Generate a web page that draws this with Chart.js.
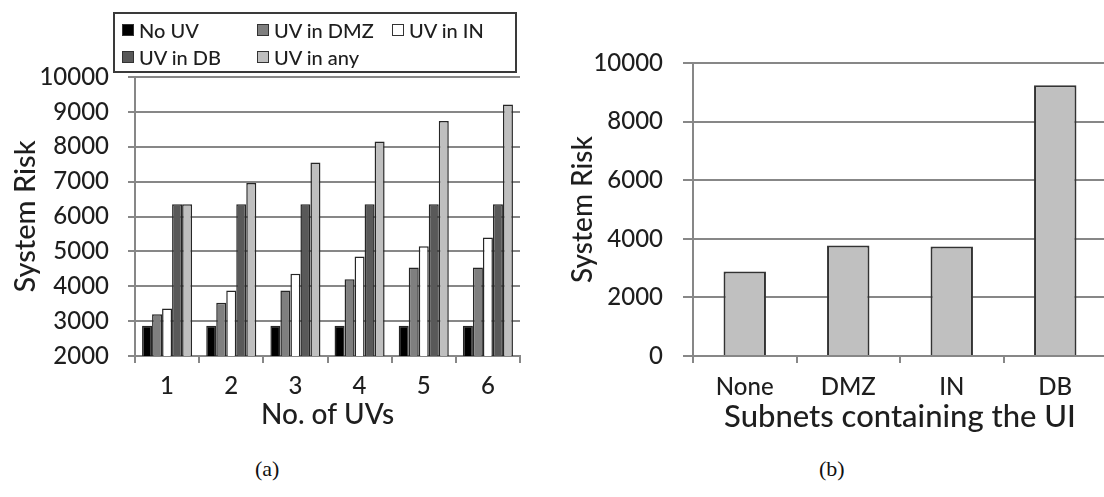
<!DOCTYPE html>
<html lang="en">
<head>
  <meta charset="UTF-8">
  <title>System Risk</title>
  <script src="https://cdn.jsdelivr.net/npm/chart.js"></script>
  <style>
    html, body { margin: 0; padding: 0; background: #fff; overflow: hidden; }
    body { width: 1104px; height: 497px; position: relative; font-family: Lato, sans-serif; color: #1e1e1e; }
    canvas { position: absolute; top: 0; }
    #chartA { left: 0; }
    #chartB { left: 560px; }
    #legendA {
      position: absolute; left: 113px; top: 12px; width: 400px; height: 55px;
      border: 2px solid #3a3a3a;
      display: grid; grid-template-columns: 135px 135px 130px; grid-auto-rows: 27px;
      padding-top: 2px;
    }
    #legendA .item { display: flex; align-items: center; padding-left: 7px; font-size: 20px; font-weight: 500; }
    #legendA .sw { width: 10px; height: 10px; border: 1.5px solid #333; margin-right: 5px; }
    .cap { position: absolute; top: 456px; font-family: "Liberation Serif", serif; font-size: 22px; color: #111; }
  </style>
</head>
<body>
  <canvas id="chartA" width="540" height="440"></canvas>
  <div id="legendA"></div>
  <canvas id="chartB" width="560" height="440"></canvas>
  <div class="cap" style="left:255px">(a)</div>
  <div class="cap" style="left:819px">(b)</div>

  <script>
    // (a) risk vs number of UVs
    const uvCounts = ["1", "2", "3", "4", "5", "6"];
    const noUV     = [2870, 2870, 2870, 2870, 2870, 2870];
    const uvInDMZ  = [3200, 3530, 3880, 4200, 4540, 4540];
    const uvInIN   = [3360, 3880, 4360, 4850, 5150, 5400];
    const uvInDB   = [6350, 6350, 6350, 6350, 6350, 6350];
    const uvInAny  = [6350, 6960, 7550, 8150, 8740, 9210];
    const ticksA   = { min: 2000, max: 10000, step: 1000 };

    // (b) risk vs subnet containing the UI
    const subnets  = ["None", "DMZ", "IN", "DB"];
    const riskB    = [2880, 3770, 3740, 9240];
    const ticksB   = { min: 0, max: 10000, step: 2000 };

    const ink = "#1e1e1e";
    const gridGray = "#878787";
    const edge = "#262626";

    Chart.defaults.font.family = "Lato, sans-serif";
    Chart.defaults.font.weight = 500;
    Chart.defaults.color = ink;

    const plain = v => String(v);   // no thousands separator

    function ds(label, data, fill) {
      return { label, data, backgroundColor: fill, borderColor: edge, borderWidth: 1.5 };
    }

    const chartA = new Chart("chartA", {
      type: "bar",
      data: {
        labels: uvCounts,
        datasets: [
          ds("No UV", noUV, "#000000"),
          ds("UV in DMZ", uvInDMZ, "#7f7f7f"),
          ds("UV in IN", uvInIN, "#ffffff"),
          ds("UV in DB", uvInDB, "#595959"),
          ds("UV in any", uvInAny, "#bfbfbf")
        ]
      },
      options: {
        responsive: false,
        devicePixelRatio: 1,
        animation: false,
        layout: { padding: { top: 77, right: 20, left: 0, bottom: 0 } },
        plugins: { legend: { display: false }, tooltip: { enabled: false } },
        datasets: { bar: { categoryPercentage: 0.78, barPercentage: 1.0 } },
        scales: {
          x: {
            grid: { offset: true, drawOnChartArea: false, color: gridGray, lineWidth: 2, tickLength: 7 },
            border: { color: gridGray, width: 2 },
            ticks: { font: { size: 24 }, padding: 9 },
            title: { display: true, text: "No. of UVs", font: { size: 28, lineHeight: 1 }, padding: { top: 0, bottom: 11 } },
            afterFit: s => { s.height = 84; }
          },
          y: {
            min: ticksA.min, max: ticksA.max,
            grid: { color: gridGray, lineWidth: 2, tickLength: 7 },
            border: { color: gridGray, width: 2 },
            ticks: { stepSize: ticksA.step, font: { size: 24 }, padding: 19, callback: plain },
            title: { display: true, text: "System Risk", font: { size: 29, lineHeight: 1 }, padding: { top: 11, bottom: 0 } },
            afterFit: s => { s.width = 135; }
          }
        }
      }
    });

    // legend box for (a), built from the chart's own datasets
    const legendA = document.getElementById("legendA");
    chartA.data.datasets.forEach(d => {
      const item = document.createElement("div");
      item.className = "item";
      const sw = document.createElement("span");
      sw.className = "sw";
      sw.style.background = d.backgroundColor;
      item.appendChild(sw);
      item.appendChild(document.createTextNode(d.label));
      legendA.appendChild(item);
    });

    new Chart("chartB", {
      type: "bar",
      data: {
        labels: subnets,
        datasets: [{ label: "System Risk", data: riskB, backgroundColor: "#c0c0c0", borderColor: "#333333", borderWidth: 2 }]
      },
      options: {
        responsive: false,
        devicePixelRatio: 1,
        animation: false,
        layout: { padding: { top: 63, right: 13, left: 0, bottom: 0 } },
        plugins: { legend: { display: false }, tooltip: { enabled: false } },
        datasets: { bar: { categoryPercentage: 1.0, barPercentage: 0.41 } },
        scales: {
          x: {
            grid: { offset: true, drawOnChartArea: false, color: gridGray, lineWidth: 2, tickLength: 7 },
            border: { color: gridGray, width: 2 },
            ticks: { font: { size: 24 }, padding: 10 },
            title: { display: true, text: "Subnets containing the UI", font: { size: 31, lineHeight: 1 }, padding: { top: 0, bottom: 8 } },
            afterFit: s => { s.height = 84; }
          },
          y: {
            min: ticksB.min, max: ticksB.max,
            grid: { color: gridGray, lineWidth: 2, tickLength: 10 },
            border: { color: gridGray, width: 2 },
            ticks: { stepSize: ticksB.step, font: { size: 24 }, padding: 20, callback: plain },
            title: { display: true, text: "System Risk", font: { size: 28, lineHeight: 1 }, padding: { top: 9, bottom: 0 } },
            afterFit: s => { s.width = 133; }
          }
        }
      }
    });
  </script>
</body>
</html>
